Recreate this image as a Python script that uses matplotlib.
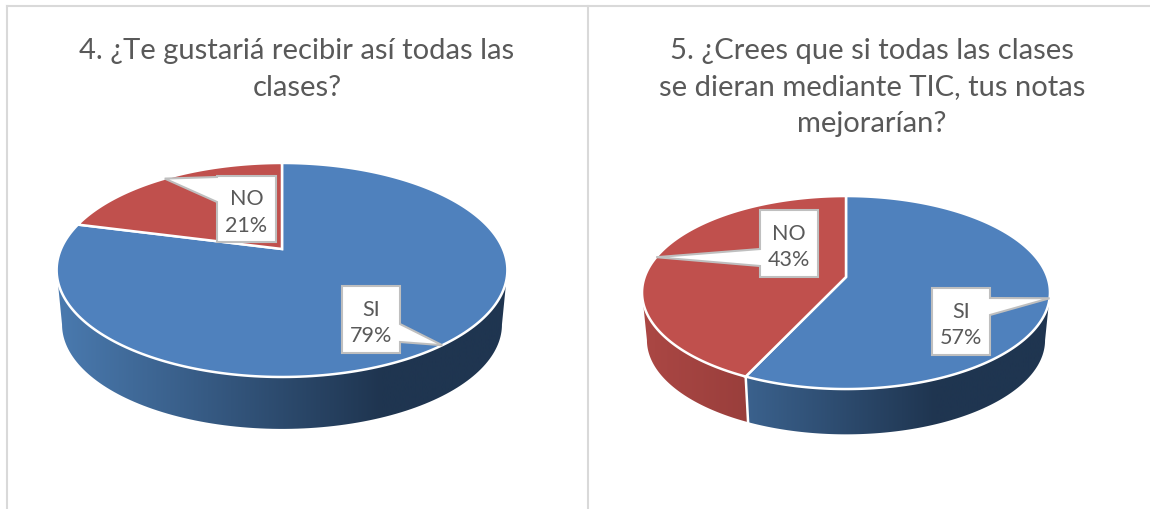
import numpy as np
import matplotlib
matplotlib.use('Agg')
import matplotlib.pyplot as plt
from matplotlib.patches import Polygon
from matplotlib.colors import LinearSegmentedColormap

categories = ['SI', 'NO']
values_q4 = [79, 21]
values_q5 = [57, 43]
title_q4 = '4. ¿Te gustariá recibir así todas las\nclases?'
title_q5 = '5. ¿Crees que si todas las clases\nse dieran mediante TIC, tus notas\nmejorarían?'

colors = {'SI': '#4f81bd', 'NO': '#c0504d'}
wall_colors = {'SI': ['#4a7aaf', '#1f3550', '#1f3550'], 'NO': ['#ab4744', '#7a2f2d', '#7a2f2d']}
text_color = '#595959'
border_color = '#d9d9d9'
box_edge = '#bfbfbf'

plt.rcParams['font.family'] = ['Lato', 'DejaVu Sans']

fig = plt.figure(figsize=(11.5, 5.1), dpi=100)
ax = fig.add_axes([0, 0, 1, 1])
ax.set_xlim(0, 1150)
ax.set_ylim(510, 0)
ax.axis('off')


def top_xy(pie, theta):
    # perspective view of the disc, theta in degrees clockwise from 12 o'clock
    t = np.radians(theta)
    w = 1 + pie['k'] * np.cos(t)
    return pie['cx'] + pie['a'] * np.sin(t) / w, pie['cy'] - pie['b'] * np.cos(t) / w


def bottom_xy(pie, theta):
    x, y = top_xy(pie, theta)
    s = pie['shrink']
    return pie['cx'] + (x - pie['cx']) * s, pie['cy'] + pie['depth'] + (y - pie['cy']) * s


def draw_pie(pie, values, title):
    total = sum(values)
    edges = np.concatenate([[0], np.cumsum(values)]) / total * 360
    limit = np.degrees(np.arcsin(pie['k']))
    front = (90 + limit, 270 - limit)
    half = pie['a'] / np.sqrt(1 - pie['k'] ** 2)

    # side wall
    for i, name in enumerate(categories):
        start = max(edges[i], front[0])
        stop = min(edges[i + 1], front[1])
        if stop <= start:
            continue
        th = np.linspace(start, stop, 120)
        x1, y1 = top_xy(pie, th)
        x2, y2 = bottom_xy(pie, th)
        pts = np.column_stack([np.r_[x1, x2[::-1]], np.r_[y1, y2[::-1]]])
        poly = Polygon(pts, closed=True, facecolor='none', edgecolor='none')
        ax.add_patch(poly)
        cmap = LinearSegmentedColormap.from_list(name, list(zip([0, 0.72, 1], wall_colors[name])))
        grad = np.linspace(0, 1, 256).reshape(1, -1)
        im = ax.imshow(grad, cmap=cmap, vmin=0, vmax=1, aspect='auto', zorder=1,
                       extent=[pie['cx'] - half, pie['cx'] + half, 510, 0])
        im.set_clip_path(poly)
        if stop < front[1]:
            ax.plot([x1[-1], x2[-1]], [y1[-1], y2[-1]], color='white', lw=1.8, zorder=2)
    ax.set_xlim(0, 1150)
    ax.set_ylim(510, 0)

    # top of the disc
    for i, name in enumerate(categories):
        th = np.linspace(edges[i], edges[i + 1], 240)
        x, y = top_xy(pie, th)
        pts = np.column_stack([np.r_[pie['cx'], x], np.r_[pie['cy'], y]])
        ax.add_patch(Polygon(pts, closed=True, facecolor=colors[name], edgecolor='white',
                             lw=1.8, joinstyle='miter', zorder=3))

    # callouts
    for i, name in enumerate(categories):
        mid = (edges[i] + edges[i + 1]) / 2
        tip = top_xy(pie, mid)
        x0, x1, y0, y1 = pie['boxes'][name]
        a0, a1 = pie['attach'][name]
        side = x0 if tip[0] < x0 else x1
        if side == x0:
            pts = [(x0, y0), (x1, y0), (x1, y1), (x0, y1), (x0, a1), tip, (x0, a0)]
        else:
            pts = [(x0, y0), (x1, y0), (x1, a0), tip, (x1, a1), (x1, y1), (x0, y1)]
        ax.add_patch(Polygon(pts, closed=True, facecolor='white', edgecolor=box_edge,
                             lw=1.5, joinstyle='miter', zorder=4))
        pct = round(values[i] / total * 100)
        ax.text((x0 + x1) / 2, (y0 + y1) / 2 + 2.5, f'{name}\n{pct}%', ha='center', va='center',
                fontsize=15.5, color=text_color, linespacing=1.42, zorder=5)

    ax.text(pie['title_x'], 38, title, ha='center', va='top', fontsize=21,
            color=text_color, linespacing=1.5)


pie_q4 = {'cx': 282, 'cy': 250, 'a': 221, 'b': 102.9, 'k': 0.196, 'shrink': 0.976, 'depth': 55,
          'title_x': 297,
          'boxes': {'SI': (342, 400, 287, 354), 'NO': (217, 276, 177, 243)},
          'attach': {'SI': (325, 343), 'NO': (178, 203)}}
pie_q5 = {'cx': 846, 'cy': 278, 'a': 201.3, 'b': 94, 'k': 0.161, 'shrink': 0.976, 'depth': 48,
          'title_x': 872,
          'boxes': {'SI': (932, 990, 289, 356), 'NO': (760, 818, 211, 278)},
          'attach': {'SI': (299, 316), 'NO': (250, 267)}}

draw_pie(pie_q4, values_q4, title_q4)
draw_pie(pie_q5, values_q5, title_q5)

# frame of the two panels
ax.plot([7, 7], [510, 7], color=border_color, lw=1.5)
ax.plot([7, 1150], [7, 7], color=border_color, lw=1.5)
ax.plot([587.5, 587.5], [7, 510], color=border_color, lw=1.5)

fig.savefig('out.png', dpi=100)
